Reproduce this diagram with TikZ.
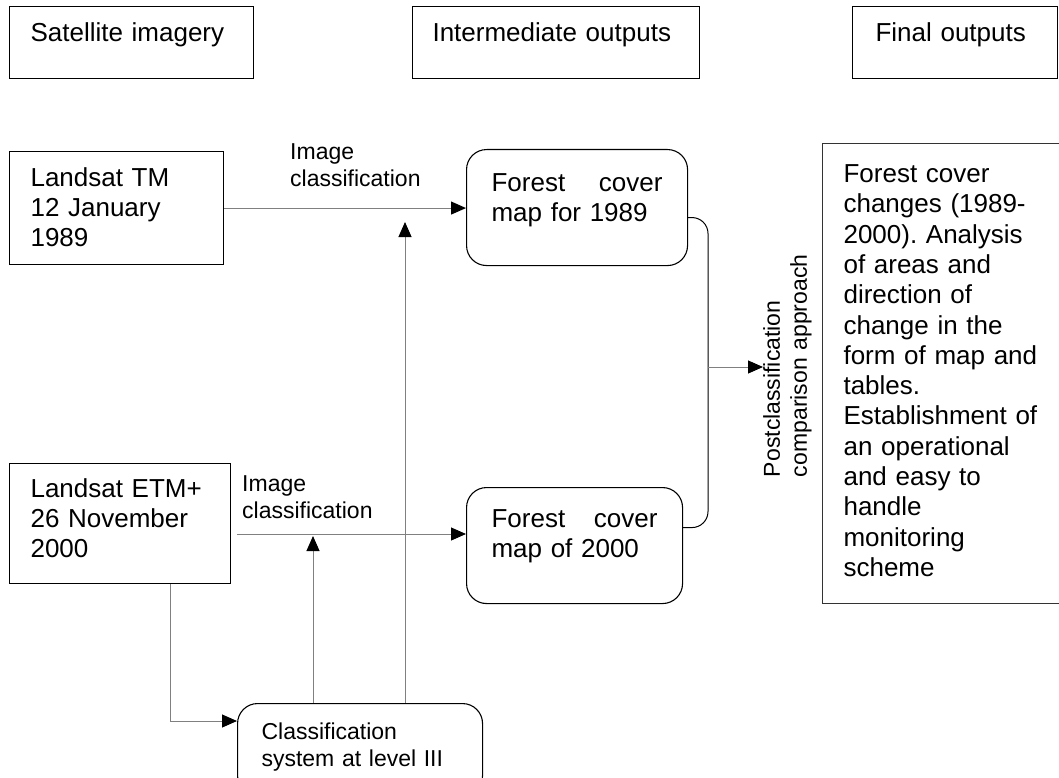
\documentclass[tikz,border=0pt]{standalone}
\usepackage{fontspec}
\setmainfont{Liberation Sans}
\usetikzlibrary{arrows.meta,positioning,calc}
\frenchspacing

\begin{document}
\begin{tikzpicture}[x=1pt, y=-1pt]

 \tikzset{
   box/.style={rectangle, draw=black, line width=1.1pt, anchor=north west, inner ysep=0pt,
     align=left, font=\fontsize{26}{30}\selectfont},
   roundbox/.style={box, rounded corners=20pt},
   note/.style={inner sep=0pt, align=left, font=\fontsize{23}{27}\selectfont},
   arrow/.style={draw=black!50, line width=1pt, -{Triangle[length=15pt, width=13pt, color=black]}},
   brace/.style={draw=black, line width=1pt, rounded corners=16pt}
 }

 \useasboundingbox (0,0) rectangle (1059,778);

 % Header row
 \node[box, inner xsep=21pt, text width=202pt, text height=35pt, text depth=37pt] (head_sat) at (9,6) {Satellite imagery};
 \node[box, inner xsep=20pt, text width=247pt, text height=35pt, text depth=37pt] (head_int) at (412,6) {Intermediate outputs};
 \node[box, inner xsep=23pt, text width=159pt, text height=35pt, text depth=37pt] (head_fin) at (852,6) {Final outputs};

 % Satellite images
 \node[box, inner xsep=21pt, text width=172pt, text height=35pt, text depth=78pt] (tm) at (9,151) {Landsat TM\\12 January\\1989};
 \node[box, inner xsep=21pt, text width=179pt, text height=34pt, text depth=86pt] (etm) at (9,463) {Landsat ETM+\\26 November\\2000};

 % Intermediate outputs
 \node[roundbox, inner xsep=25pt, text width=171pt, text height=42pt, text depth=74pt] (f89) at (466,149) {Forest\hfill cover\\map for 1989};
 \node[roundbox, inner xsep=25pt, text width=166pt, text height=40pt, text depth=76pt] (f00) at (466,487) {Forest\hfill cover\\map of 2000};
 \node[roundbox, inner xsep=24pt, text width=197pt, text height=36pt, text depth=56pt,
       font=\fontsize{23}{27}\selectfont] (cls) at (237,703) {Classification\\system at level III};

 % Final output
 \node[box, draw=black!80, inner xsep=21pt, text width=198pt, text height=39pt, text depth=421pt,
       font=\fontsize{26}{30.3}\selectfont] (fin) at (822,143)
   {Forest cover\\changes (1989-\\2000). Analysis\\of areas and\\direction of\\change in the\\form of map and\\tables.\\Establishment of\\an operational\\and easy to\\handle\\monitoring\\scheme};

 % Labels
 \node[note, text width=140pt, anchor=north west] (lab_tm) at (290,143) {Image\\classification};
 \node[note, text width=140pt, anchor=north west] (lab_etm) at (242,475) {Image\\classification};
 \node[note, text width=232pt, anchor=north, rotate=90] (post) at (763,361) {Postclassification\\comparison approach};

 % Helper points
 \coordinate (rowB) at (237,534);
 \coordinate (tipA) at (405,222);
 \coordinate (tipB) at (313,536);
 \coordinate (bendC) at (170,721);
 \coordinate (join) at (708,367);

 % Arrows
 \draw[arrow] (tm.east) -- (tm.east -| f89.west);
 \draw[arrow] (rowB) -- (rowB -| f00.west);
 \draw[arrow] (cls.north -| tipA) -- (tipA);
 \draw[arrow] (cls.north -| tipB) -- (tipB);
 \draw[arrow] (etm.south -| bendC) |- (cls.west |- bendC);
 \draw[brace] ([yshift=-10pt]f89.east) -| (join) |- ([yshift=18pt]f00.east);
 \draw[arrow] (join) -- (join -| post.north);

\end{tikzpicture}
\end{document}
